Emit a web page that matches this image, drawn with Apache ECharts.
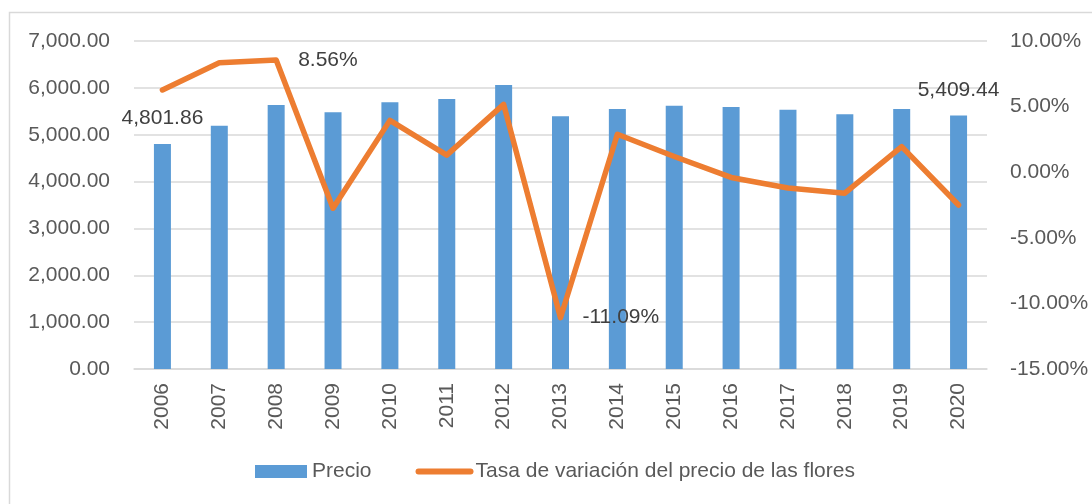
<!DOCTYPE html>
<html>
<head>
<meta charset="utf-8">
<script src="https://cdn.jsdelivr.net/npm/echarts@6/dist/echarts.min.js"></script>
<style>
  html, body { margin: 0; padding: 0; background: #fff; }
  #chart { width: 1092px; height: 504px; }
</style>
</head>
<body>
<div id="chart"></div>
<script>
var years = ['2006', '2007', '2008', '2009', '2010', '2011', '2012', '2013', '2014', '2015', '2016', '2017', '2018', '2019', '2020'];
var precio = [4801.86, 5192, 5634, 5478, 5691, 5762, 6061, 5393, 5548, 5619, 5591, 5534, 5435, 5548, 5409.44];
var tasa = [6.27, 8.35, 8.56, -2.75, 3.95, 1.3, 5.17, -11.09, 2.89, 1.2, -0.4, -1.2, -1.6, 1.95, -2.5];
var precioLabelIdx = [0, 14];
var tasaLabelIdx = [2, 7];

var txt = '#595959';
var gridColor = '#D9D9D9';

var myChart = echarts.init(document.getElementById('chart'));

function fmtNum(v) {
    return v.toLocaleString('en-US', { minimumFractionDigits: 2, maximumFractionDigits: 2 });
}

var option = {
    animation: false,
    textStyle: { fontFamily: 'Liberation Sans' },
    graphic: [{
        type: 'rect',
        shape: { x: 9.5, y: 12.5, width: 1100, height: 520 },
        style: { fill: 'none', stroke: gridColor, lineWidth: 1.5 },
        silent: true
    }],
    grid: { left: 134, right: 105, top: 41, bottom: 135, containLabel: false },
    legend: {
        left: 250,
        top: 456,
        itemWidth: 52,
        itemHeight: 13,
        itemGap: 44,
        textStyle: { color: txt, fontSize: 21, fontFamily: 'Liberation Sans' },
        data: [
            { name: 'Precio', icon: 'rect' },
            {
                name: 'Tasa de variación del precio de las flores',
                itemStyle: { opacity: 0 },
                lineStyle: { width: 6, cap: 'round', opacity: 1 }
            }
        ]
    },
    xAxis: {
        type: 'category',
        data: years,
        axisTick: { show: false },
        axisLine: { lineStyle: { color: gridColor, width: 1.5 } },
        axisLabel: { rotate: 90, color: txt, fontSize: 21, margin: 14 }
    },
    yAxis: [{
        type: 'value',
        min: 0,
        max: 7000,
        interval: 1000,
        axisLine: { show: false },
        axisTick: { show: false },
        splitLine: { lineStyle: { color: gridColor, width: 1.5 } },
        axisLabel: { color: txt, fontSize: 21, margin: 24, formatter: fmtNum }
    }, {
        type: 'value',
        min: -15,
        max: 10,
        interval: 5,
        axisLine: { show: false },
        axisTick: { show: false },
        splitLine: { show: false },
        axisLabel: { color: txt, fontSize: 21, margin: 23, formatter: function (v) { return v.toFixed(2) + '%'; } }
    }],
    series: [{
        name: 'Precio',
        type: 'bar',
        barWidth: 17,
        itemStyle: { color: '#5B9BD5' },
        data: precio.map(function (v, i) {
            return {
                value: v,
                label: {
                    show: precioLabelIdx.indexOf(i) >= 0,
                    position: 'top',
                    distance: 15,
                    color: '#404040',
                    fontSize: 21,
                    formatter: function (p) { return fmtNum(p.value); }
                }
            };
        })
    }, {
        name: 'Tasa de variación del precio de las flores',
        type: 'line',
        yAxisIndex: 1,
        symbol: 'circle',
        symbolSize: 0.01,
        showSymbol: true,
        lineStyle: { color: '#ED7D31', width: 5.5, cap: 'round', join: 'round' },
        itemStyle: { color: '#ED7D31' },
        data: tasa.map(function (v, i) {
            return {
                value: v,
                label: {
                    show: tasaLabelIdx.indexOf(i) >= 0,
                    position: 'right',
                    distance: 22,
                    color: '#404040',
                    fontSize: 21,
                    formatter: function (p) { return p.value.toFixed(2) + '%'; }
                }
            };
        })
    }]
};

myChart.setOption(option);
</script>
</body>
</html>
